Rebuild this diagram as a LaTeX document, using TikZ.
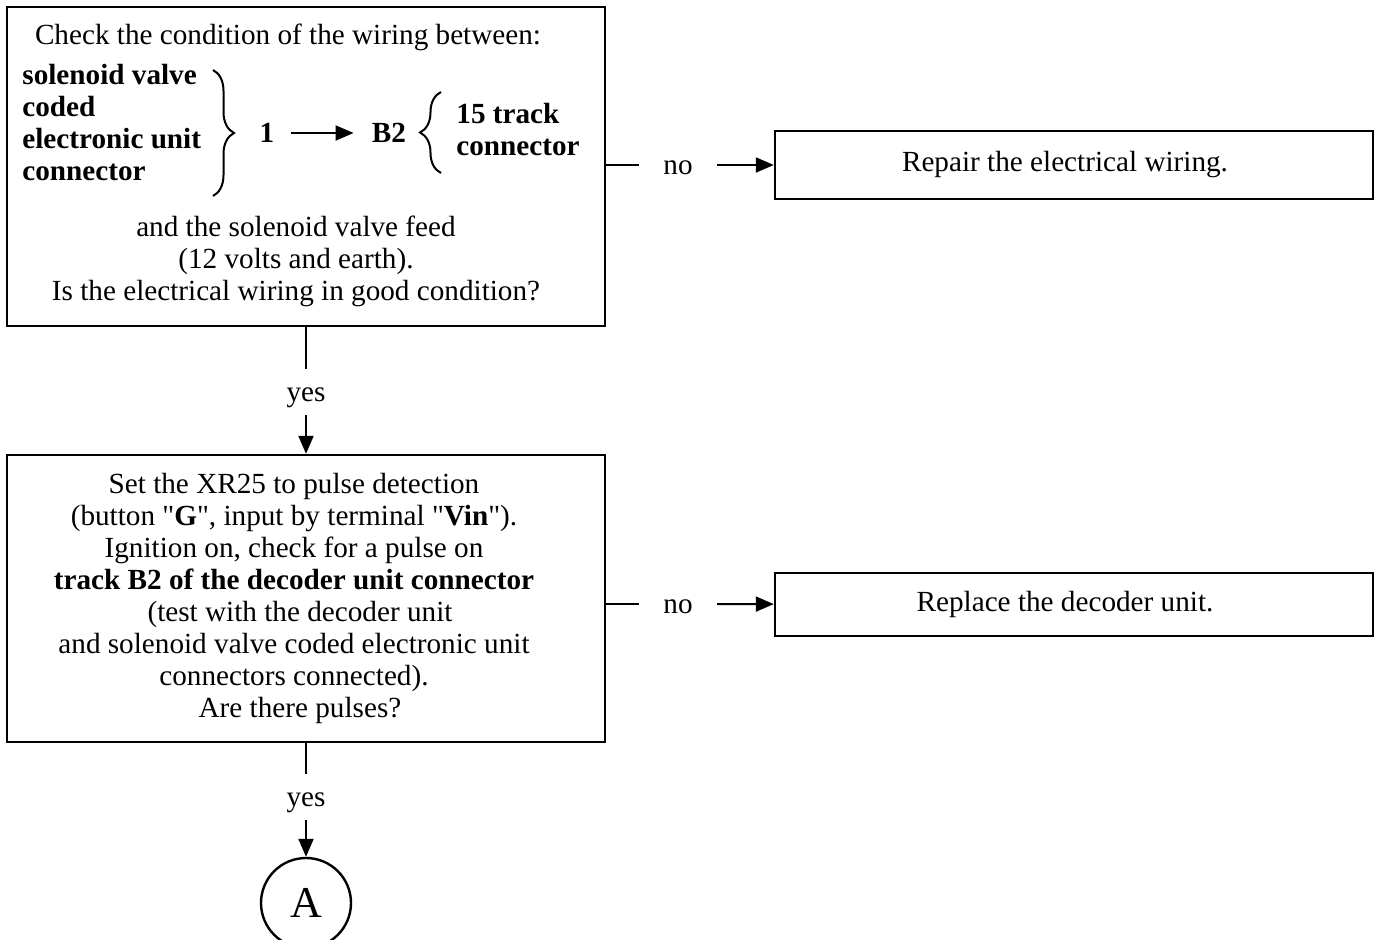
\documentclass[tikz,border=0pt]{standalone}
\usepackage{fontspec}
\setmainfont{Liberation Serif}
\usetikzlibrary{arrows.meta,decorations.pathreplacing,positioning}
\newcommand{\txt}{\fontsize{14.6}{16}\selectfont}
\tikzstyle{box}=[draw,line width=1.2pt,rectangle,inner sep=0pt,align=center]
\tikzstyle{path}=[-{Triangle[length=9pt,width=7.5pt]},line width=1pt]
\tikzstyle{lbl}=[inner sep=0pt,align=center]
\tikzstyle{ans}=[inner xsep=0pt,inner ysep=0pt,text height=9.5pt,text depth=0pt]
\tikzstyle{brc}=[decorate,decoration={brace,amplitude=10.5pt},line width=1pt]

\begin{document}
\begin{tikzpicture}[x=0.5pt,y=-0.5pt,font=\txt]
  \useasboundingbox (0,0) rectangle (1380,940);

  % first test: wiring
  \node[box,minimum width=299pt,minimum height=159.5pt] (chk) at (306,166.5) {};
  \node[lbl] (head) at (288,37) {Check the condition of the wiring between:};
  \node[lbl,anchor=west,align=left,font=\txt\bfseries]
    (ecu) at (22,123) {solenoid valve\\coded\\electronic unit\\connector};
  \node[lbl,font=\txt\bfseries] (one) at (267,133) {1};
  \node[lbl,font=\txt\bfseries] (b2) at (389,133) {B2};
  \node[lbl,anchor=west,align=left,font=\txt\bfseries]
    (dec) at (456,130) {15 track\\connector};
  \draw[brc] (213,70) -- (213,196);
  \draw[brc] (441,173) -- (441,92);
  \draw[path,shorten <=8pt,shorten >=9pt] (one) -- (b2);
  \node[lbl] (feed) at (296,261) {and the solenoid valve feed\\(12 volts and earth).\\Is the electrical wiring in good condition?};

  % second test: pulses
  \node[box,minimum width=299pt,minimum height=143.5pt] (tst) at (306,598.5) {};
  \node[lbl] (pulse) at (294,598)
    {Set the XR25 to pulse detection\\(button \textquotedbl\textbf{G}\textquotedbl, input by terminal \textquotedbl\textbf{Vin}\textquotedbl).\\
     Ignition on, check for a pulse on\\\textbf{track B2 of the decoder unit connector}\\
     \hspace*{6pt}(test with the decoder unit\\and solenoid valve coded electronic unit\\
     connectors connected).\\\hspace*{6pt}Are there pulses?};

  % repairs
  \node[box,minimum width=299pt,minimum height=34pt] (rep) at (1074,165) {Repair the electrical wiring.\hspace*{9pt}};
  \node[box,minimum width=299pt,minimum height=31.5pt] (rpl) at (1074,604.5) {Replace the decoder unit.\hspace*{9pt}};

  \node[circle,draw,line width=1.2pt,minimum size=45pt,inner sep=0pt,
    font=\fontsize{22}{22}\selectfont] (A) at (306,903) {A};

  % answers
  \node[ans,inner xsep=12pt] (no1) at (678,165) {no};
  \node[ans,inner xsep=12pt] (no2) at (678,604) {no};
  \node[ans,inner ysep=6.5pt] (yes1) at (306,392) {yes};
  \node[ans,inner ysep=6.5pt] (yes2) at (306,797) {yes};

  \draw[line width=1pt] (chk.east |- no1) -- (no1);
  \draw[path] (no1) -- (rep);
  \draw[line width=1pt] (tst.east |- no2) -- (no2);
  \draw[path] (no2) -- (rpl);
  \draw[line width=1pt] (chk) -- (yes1);
  \draw[path] (yes1) -- (tst);
  \draw[line width=1pt] (tst) -- (yes2);
  \draw[path] (yes2) -- (A);
\end{tikzpicture}
\end{document}
